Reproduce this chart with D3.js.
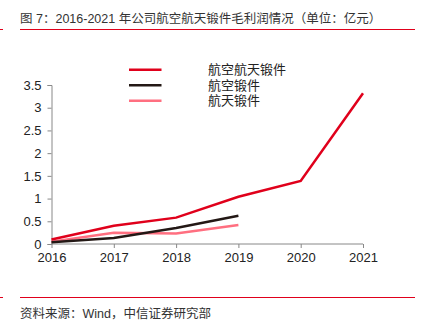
<!DOCTYPE html>
<html><head><meta charset="utf-8">
<script src="https://cdn.jsdelivr.net/npm/d3@7"></script>
<style>
body{margin:0;background:#fff;}
text{font-family:"Liberation Sans","Noto Sans CJK SC",sans-serif;}
</style></head>
<body><svg id="c" width="427" height="321"></svg>
<script>
const years = ["2016","2017","2018","2019","2020","2021"];
const seriesNames = ["航空航天锻件","航空锻件","航天锻件"];
const seriesColors = ["#E0001B","#231815","#FF6F80"];
const aeroSpace = [0.10,0.40,0.58,1.04,1.39,3.32];
const aero = [0.04,0.13,0.35,0.62];
const space = [0.05,0.25,0.23,0.42];
const yTicks = [0,0.5,1,1.5,2,2.5,3,3.5];
const titleText = "图 7：2016-2021 年公司航空航天锻件毛利润情况（单位：亿元）";
const sourceText = "资料来源：Wind，中信证券研究部";

const svg = d3.select("#c");
const x = d3.scalePoint().domain(years).range([51.5,363]);
const y = d3.scaleLinear().domain([0,3.5]).range([244,85]);

svg.append("text").attr("x",20).attr("y",23).attr("font-size",12.5).attr("fill","#333").text(titleText);
svg.append("line").attr("x1",20).attr("x2",415).attr("y1",29.5).attr("y2",29.5).attr("stroke","#E0001B").attr("stroke-width",1);
svg.append("line").attr("x1",0).attr("x2",3).attr("y1",29.5).attr("y2",29.5).attr("stroke","#E0001B").attr("stroke-width",1);

const ga = svg.append("g").attr("transform","translate(51.5,0)")
  .call(d3.axisLeft(y).tickValues(yTicks).tickSize(4).tickPadding(6).tickFormat(d=>d));
const gx = svg.append("g").attr("transform","translate(0,244)")
  .call(d3.axisBottom(x).tickSize(4).tickPadding(5));
[ga,gx].forEach(g=>{
  g.select(".domain").attr("stroke","#888");
  g.selectAll(".tick line").attr("stroke","#888");
  g.selectAll("text").attr("font-size",13).attr("fill","#222").attr("font-family","Liberation Sans, sans-serif");
});
gx.select(".domain").attr("d","M51.5,0H363");

const line = d3.line().x((d,i)=>x(years[i])).y(d=>y(d));
const data = [aeroSpace,aero,space];
[space,aero,aeroSpace].forEach((arr)=>{
  const k = data.indexOf(arr);
  svg.append("path").attr("d",line(arr)).attr("fill","none")
    .attr("stroke",seriesColors[k]).attr("stroke-width",2.5);
});

seriesNames.forEach((n,i)=>{
  const yy = 69.7 + i*15.5;
  svg.append("line").attr("x1",129).attr("x2",161.5).attr("y1",yy).attr("y2",yy)
    .attr("stroke",seriesColors[i]).attr("stroke-width",2.5);
  svg.append("text").attr("x",208).attr("y",yy+4.5).attr("font-size",13).attr("fill","#222")
    .attr("font-family","Noto Sans CJK SC, sans-serif").text(n);
});

svg.append("line").attr("x1",20).attr("x2",415).attr("y1",297.5).attr("y2",297.5).attr("stroke","#E0001B").attr("stroke-width",1);
svg.append("line").attr("x1",0).attr("x2",3).attr("y1",297.5).attr("y2",297.5).attr("stroke","#E0001B").attr("stroke-width",1);
svg.append("text").attr("x",20).attr("y",317.5).attr("font-size",12.5).attr("fill","#333").text(sourceText);
</script></body></html>
